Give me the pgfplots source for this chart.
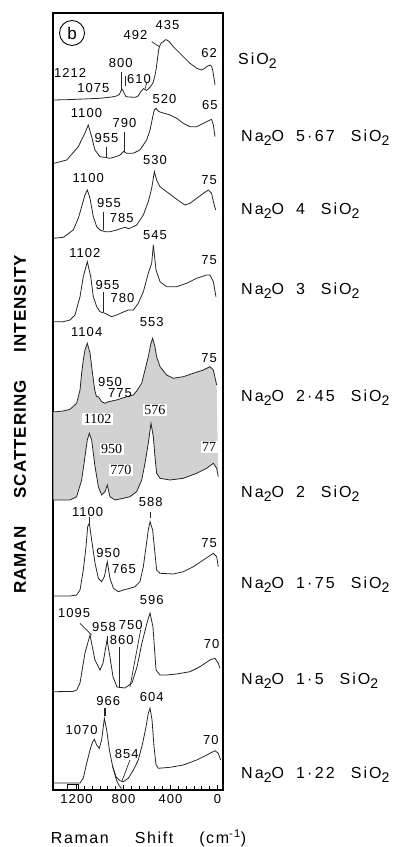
\documentclass[border=0pt]{standalone}
\usepackage{fontspec}
\setmainfont{Liberation Sans}
\usepackage{pgfplots}
\pgfplotsset{compat=1.18}
\usepgfplotslibrary{fillbetween}
\newfontfamily\numf[LetterSpace=8]{Liberation Sans}
\newfontfamily\serf{Liberation Serif}
\newfontfamily\rlab[LetterSpace=14]{Liberation Sans}
\newfontfamily\xlab[LetterSpace=10]{Liberation Sans}
\newfontfamily\ylab[LetterSpace=6]{Liberation Sans}
\newcommand{\sub}[1]{\raisebox{-0.4ex}{\fontsize{14}{14}\selectfont #1}}
\newcommand{\lbl}[2]{\rlab Na\sub{2}O\hspace{12pt}#1\hspace{16pt}S\kern2pt i\kern2pt O\sub{2}}
\tikzset{pk/.style={font=\fontsize{13}{13}\numf, inner sep=0pt},
  sk/.style={font=\fontsize{14}{14}\serf, fill=white, inner sep=1.5pt},
  ann/.style={black!85, line width=0.7pt},
  rl/.style={anchor=base west, inner sep=0pt, font=\fontsize{16}{16}\selectfont}}
\pgfplotsset{spec/.style={black!85, line width=0.8pt, mark=none}}
\begin{document}
\begin{tikzpicture}[x=1pt,y=1pt]
\begin{axis}[at={(53pt,57pt)}, anchor=south west, width=170pt, height=777pt, scale only axis,
  xmin=-47, xmax=1400, x dir=reverse, ymin=13, ymax=790, y dir=reverse,
  axis line style={line width=1.6pt}, clip=false,
  xtick={0,400,800,1200}, xticklabels={0,400,800,1200}, minor x tick num=5,
  ytick=\empty, tick align=inside, xtick pos=left,
  major tick length=5pt, minor tick length=4pt,
  every tick/.style={line width=0.9pt, black},
  xticklabel style={font=\fontsize{13}{13}\numf, yshift=-1pt}]

% SiO2
\addplot[spec] coordinates {(1397,100) (1284,99.7) (1142,99) (1000,98.3) (900,97) (858,96) (835,94.5) (822,91) (810,89.5) (795,93) (780,96.5) (759,97) (700,97.3) (675,96) (655,92) (631,88.7) (617,89.5) (603,90.5) (590,89) (574,87.3) (555,84) (546,81.7) (535,77) (523,70) (512,60) (501,50) (489,45) (475,42.5) (461,41.7) (447,40) (435,39.7) (425,40.5) (410,41.7) (376,46.7) (333,51.7) (291,56.7) (234,63.3) (177,68.3) (135,70) (110,68.5) (92,66.7) (64,65) (50,66.5) (41,70) (27,80) (21,85)};
% 5.67
\addplot[spec] coordinates {(1397,163.5) (1283,160) (1185,146.7) (1128,133) (1100,125) (1071,136.7) (1043,150) (1000,156.7) (950,157.5) (915,158.3) (860,156.5) (830,155) (800,151.5) (773,153.3) (717,153.3) (660,150) (603,140) (574,130) (551,116.7) (538,110) (523,108.3) (505,111) (489,112) (447,113.5) (404,115) (347,118.3) (291,123.3) (234,126.7) (177,126.7) (120,123.3) (64,120) (50,119.5) (35,125) (21,136.7)};
% 4
\addplot[spec] coordinates {(1397,238.3) (1312,237.3) (1227,230) (1184,218) (1156,206.7) (1128,195) (1108,190) (1085,198.3) (1057,216.7) (1028,226.7) (1000,230) (957,231.7) (915,231.7) (858,230) (820,228.5) (787,227.3) (760,228.5) (745,228.3) (688,225) (631,215) (589,201.7) (560,188.3) (537,171.7) (518,180) (489,186.7) (433,191.7) (376,196.7) (319,201.7) (276,205) (234,203.3) (177,198.3) (120,193.3) (78,190) (50,193.3) (35,201.7) (15,210)};
% 3
\addplot[spec] coordinates {(1397,321.7) (1312,321.7) (1255,320) (1213,315) (1170,296.7) (1142,276.7) (1108,261.7) (1079,276.7) (1057,296.7) (1028,306.7) (1000,311.7) (957,313.3) (901,316.7) (858,315) (800,312) (759,310) (716,310) (674,303.3) (631,291.7) (589,273.3) (560,263.3) (546,245) (523,270) (489,281.7) (433,286.7) (347,286.7) (262,283.3) (177,278.3) (92,275) (64,275) (35,281.7) (13,296.7)};
% 2.45
\addplot[spec, name path=A] coordinates {(1397,411.7) (1369,411.7) (1312,411) (1255,409.3) (1199,403.3) (1170,390) (1156,373) (1142,360) (1128,350) (1108,343.3) (1085,353) (1064,373) (1045,390) (1030,396.7) (1014,396.7) (986,401.7) (957,403.3) (929,401.7) (858,400) (773,396.7) (716,395) (688,391) (645,383.3) (617,370) (589,356.7) (566,343.3) (552,338.3) (532,346.7) (518,356.7) (489,366.7) (433,375) (376,378.3) (291,376.7) (206,373.3) (120,370) (64,366.7) (35,370) (7,385)};
% 2
\addplot[spec, name path=B] coordinates {(1397,500) (1312,500) (1255,500) (1199,496.7) (1156,480) (1128,456.7) (1108,440) (1091,433.3) (1071,440) (1042,466.7) (1014,486.7) (986,495) (957,491.7) (938,485) (915,496.7) (872,500) (801,498.3) (745,496.7) (688,491.7) (645,480) (617,463.3) (589,443.3) (566,423.3) (546,436.7) (532,456.7) (518,473.3) (489,478.3) (404,480) (291,478.3) (177,473.3) (92,468.3) (35,463.3) (7,468.3) (-7,476.7)};
\addplot[fill=gray!35, draw=none] fill between[of=A and B];
% 1.75
\addplot[spec] coordinates {(1397,596) (1255,596) (1199,595) (1170,590) (1142,570) (1119,546.7) (1105,526.7) (1091,523) (1071,540) (1042,563.3) (1014,578.3) (986,581.7) (963,576.7) (938,561.7) (915,578.3) (886,588.3) (844,591.7) (801,590) (745,588.3) (702,586.7) (660,581.7) (631,566.7) (608,546.7) (589,530) (574,521.7) (552,530) (532,553.3) (518,570) (489,573.3) (376,574) (291,571.7) (206,566.7) (120,560) (35,553.3) (7,556.7) (-7,566.7)};
% 1.5
\addplot[spec] coordinates {(1397,691.7) (1230,691.5) (1198,690) (1170,683) (1128,653) (1085,635) (1043,660) (1000,670) (974,663) (940,640) (915,657) (889,677) (855,687) (787,688) (728,683) (685,667) (643,643) (600,623) (574,613) (549,627) (523,670) (489,675) (433,675) (347,674) (234,671.7) (149,666.7) (64,660) (21,658.3) (-7,663.3) (-21,668.3)};
% 1.22
\addplot[spec] coordinates {(1397,783) (1284,783) (1170,783) (1142,778) (1113,763) (1085,750) (1062,741.7) (1048,739.3) (1028,745) (1006,748.3) (986,740) (963,718.3) (943,730) (920,750) (892,766.7) (864,776.7) (830,780.7) (801,781.7) (759,778.3) (716,770) (674,760) (637,743.3) (608,726.7) (589,713.3) (574,708.3) (557,720) (540,746.7) (523,765) (503,768.3) (404,767.3) (291,765) (177,760) (92,755) (21,750.7) (-7,753.3) (-27,760)};
\addplot[spec] coordinates {(892,766.7) (860,780) (835,786) (816,788.5)};

% annotation lines
\draw[ann] (axis cs:821,72) -- (axis cs:821,90);
\draw[ann] (axis cs:787,76) -- (axis cs:787,86);
\draw[ann] (axis cs:560,41.7) -- (axis cs:495,46.7);
\draw[ann] (axis cs:600,82) -- (axis cs:617,89);
\draw[ann] (axis cs:943,146.7) -- (axis cs:943,156.7);
\draw[ann] (axis cs:796,132) -- (axis cs:796,152);
\draw[ann] (axis cs:972,211.7) -- (axis cs:972,230);
\draw[ann] (axis cs:972,291.7) -- (axis cs:972,311.7);
\draw[ann] (axis cs:1091,517) -- (axis cs:1091,523);
\draw[ann] (axis cs:574,512) -- (axis cs:574,518);
\draw[ann] (axis cs:1170,623.3) -- (axis cs:1071,635);
\draw[ann] (axis cs:838,646.7) -- (axis cs:838,688);
\draw[ann] (axis cs:654,630) -- (axis cs:745,687);
\draw[black!85, line width=1.4pt] (axis cs:938,636) -- (axis cs:938,643);
\draw[black!85, line width=1.4pt] (axis cs:957,708) -- (axis cs:957,716);
\draw[ann] (axis cs:745,760) -- (axis cs:815,781.7);
\draw[line width=0.8pt] (axis cs:1281,789) -- (axis cs:1281,784) -- (axis cs:1187,784) -- (axis cs:1187,789);

% peak labels
\node[draw, circle, line width=0.9pt, minimum size=25pt, inner sep=0pt, font=\fontsize{17}{17}\selectfont] at (axis cs:1238,33) {b};
\node[pk] at (axis cs:698,35) {492};
\node[pk] at (axis cs:426,25) {435};
\node[pk] at (axis cs:72,53) {62};
\node[pk] at (axis cs:823,63.3) {800};
\node[pk] at (axis cs:1255,72.5) {1212};
\node[pk] at (axis cs:1057,88.3) {1075};
\node[pk] at (axis cs:668,79.5) {610};
\node[pk] at (axis cs:1115,113.3) {1100};
\node[pk] at (axis cs:451,98.8) {520};
\node[pk] at (axis cs:64,105) {65};
\node[pk] at (axis cs:945,138) {955};
\node[pk] at (axis cs:791,122.8) {790};
\node[pk] at (axis cs:1100,178.3) {1100};
\node[pk] at (axis cs:532,160) {530};
\node[pk] at (axis cs:72,180) {75};
\node[pk] at (axis cs:923,203.3) {955};
\node[pk] at (axis cs:815,218.3) {785};
\node[pk] at (axis cs:1128,253.3) {1102};
\node[pk] at (axis cs:532,235) {545};
\node[pk] at (axis cs:72,260) {75};
\node[pk] at (axis cs:936,285) {955};
\node[pk] at (axis cs:809,298.3) {780};
\node[pk] at (axis cs:1113,331.7) {1104};
\node[pk] at (axis cs:560,321.7) {553};
\node[pk] at (axis cs:72,358.3) {75};
\node[pk] at (axis cs:915,381.7) {950};
\node[pk] at (axis cs:830,393.3) {775};
\node[sk] at (axis cs:1021,419) {1102};
\node[sk] at (axis cs:532,410) {576};
\node[sk] at (axis cs:72,446.7) {77};
\node[sk] at (axis cs:900,449) {950};
\node[sk] at (axis cs:823,470) {770};
\node[pk] at (axis cs:1106,512.5) {1100};
\node[pk] at (axis cs:568,502.5) {588};
\node[pk] at (axis cs:72,543.3) {75};
\node[pk] at (axis cs:929,553.3) {950};
\node[pk] at (axis cs:796,569) {765};
\node[pk] at (axis cs:1221,613.3) {1095};
\node[pk] at (axis cs:966,626.7) {958};
\node[pk] at (axis cs:738,625) {750};
\node[pk] at (axis cs:815,640) {860};
\node[pk] at (axis cs:560,600) {596};
\node[pk] at (axis cs:49,644) {70};
\node[pk] at (axis cs:929,700.8) {966};
\node[pk] at (axis cs:560,697.5) {604};
\node[pk] at (axis cs:1156,730) {1070};
\node[pk] at (axis cs:773,754) {854};
\node[pk] at (axis cs:57,740) {70};

% composition labels
\node[rl] at (axis cs:-175,65) {\rlab S\kern2pt i\kern2pt O\sub{2}};
\node[rl] at (axis cs:-200,142) {\lbl{5·67}{}};
\node[rl] at (axis cs:-200,215) {\lbl{4}{}};
\node[rl] at (axis cs:-200,295) {\lbl{3}{}};
\node[rl] at (axis cs:-200,402) {\lbl{2·45}{}};
\node[rl] at (axis cs:-200,498) {\lbl{2}{}};
\node[rl] at (axis cs:-200,589) {\lbl{1·75}{}};
\node[rl] at (axis cs:-200,685) {\lbl{1·5}{}};
\node[rl] at (axis cs:-200,779) {\lbl{1·22}{}};

% axis titles
\node[rotate=90, inner sep=0pt, font=\fontsize{17}{17}\ylab\bfseries] at (axis cs:1681,424.5) {RAMAN\hspace{28pt}SCATTERING\hspace{28pt}INTENSITY};
\node[inner sep=0pt, font=\fontsize{16}{16}\xlab] at (axis cs:587,838) {Raman\hspace{26pt}Shift\hspace{26pt}(cm\textsuperscript{-1})};
\end{axis}
\pgfresetboundingbox
\path[use as bounding box] (0,0) rectangle (401,847);
\end{tikzpicture}
\end{document}
